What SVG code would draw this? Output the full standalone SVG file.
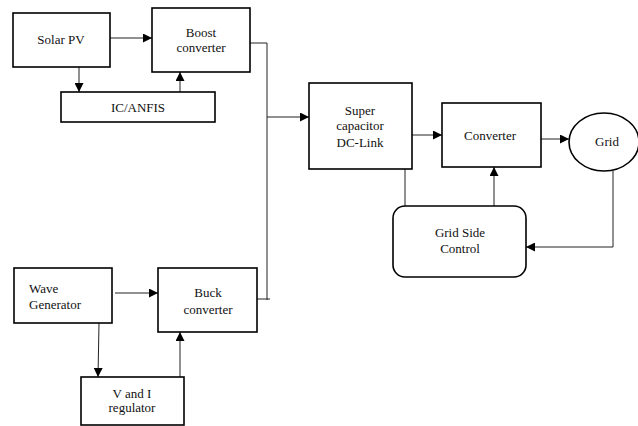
<svg xmlns="http://www.w3.org/2000/svg" width="638" height="426" viewBox="0 0 638 426">
<style>
.box{fill:#fff;stroke:#000;stroke-width:1.6}
.ln{fill:none;stroke:#222;stroke-width:1}
text{font-family:'Liberation Serif','Times New Roman','DejaVu Serif',serif;font-size:13px;fill:#111;text-anchor:middle}
</style>
<defs>
<marker id="ah" viewBox="0 0 10 10" refX="10" refY="5" markerWidth="9" markerHeight="9" markerUnits="userSpaceOnUse" orient="auto">
<path d="M0,0 L10,5 L0,10 z" fill="#000"/>
</marker>
</defs>
<g id="connectors">
<path class="ln" d="M110,38 H152" marker-end="url(#ah)"/>
<path class="ln" d="M79,67 V92" marker-end="url(#ah)"/>
<path class="ln" d="M180,92 V72" marker-end="url(#ah)"/>
<path class="ln" d="M250,43 H267 V300"/>
<path class="ln" d="M257,299 H270"/>
<path class="ln" d="M267,117 H309" marker-end="url(#ah)"/>
<path class="ln" d="M412,135 H442" marker-end="url(#ah)"/>
<path class="ln" d="M541,139 H569" marker-end="url(#ah)"/>
<path class="ln" d="M405,169 V206"/>
<path class="ln" d="M494,206 V167" marker-end="url(#ah)"/>
<path class="ln" d="M613,171 V247 H526" marker-end="url(#ah)"/>
<path class="ln" d="M115,293 H158" marker-end="url(#ah)"/>
<path class="ln" d="M99,323 L98,377" marker-end="url(#ah)"/>
<path class="ln" d="M180,377 V332" marker-end="url(#ah)"/>
</g>
<g id="solar-pv"><rect class="box" x="13" y="13" width="97" height="54"/><text x="61" y="44" font-family="Liberation Serif, serif">Solar PV</text></g>
<g id="boost"><rect class="box" x="152" y="8" width="98" height="64"/><text x="201" y="37">Boost</text><text x="201" y="52">converter</text></g>
<g id="ic-anfis"><rect class="box" x="61" y="92" width="154" height="30"/><text x="138" y="112">IC/ANFIS</text></g>
<g id="supercap"><rect class="box" x="309" y="83" width="103" height="86"/><text x="360" y="115">Super</text><text x="360" y="130">capacitor</text><text x="360" y="147">DC-Link</text></g>
<g id="converter"><rect class="box" x="442" y="103" width="99" height="64"/><text x="490" y="140">Converter</text></g>
<g id="grid"><ellipse class="box" cx="604" cy="142" rx="35" ry="29"/><text x="607" y="146">Grid</text></g>
<g id="grid-side-control"><rect class="box" x="393" y="206" width="133" height="71" rx="12"/><text x="460" y="237">Grid Side</text><text x="460" y="253">Control</text></g>
<g id="wave-generator"><rect class="box" x="14" y="268" width="98" height="55"/><text x="29" y="293" style="text-anchor:start">Wave</text><text x="29" y="309" style="text-anchor:start">Generator</text></g>
<g id="buck"><rect class="box" x="158" y="268" width="99" height="64"/><text x="208" y="297">Buck</text><text x="208" y="314">converter</text></g>
<g id="v-i-regulator"><rect class="box" x="81" y="377" width="103" height="48"/><text x="132" y="398">V and I</text><text x="132" y="412">regulator</text></g>
</svg>
